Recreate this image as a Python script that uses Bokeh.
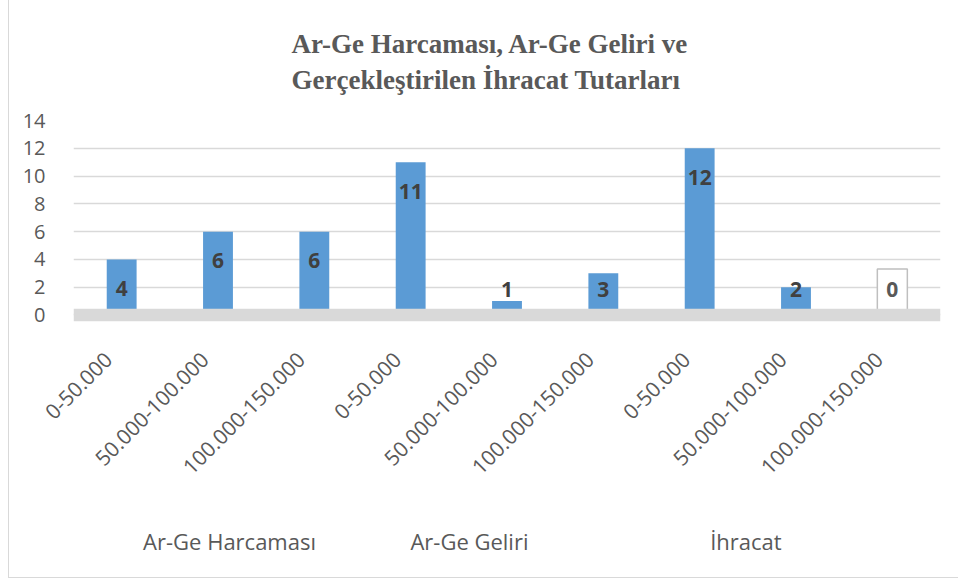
import math
from bokeh.plotting import figure
from bokeh.models import (ColumnDataSource, BoxAnnotation, Range1d,
                          LinearAxis, FixedTicker, Title)
from bokeh.embed import file_html
from bokeh.resources import INLINE
from bokeh.core.properties import value

# ---- data ----
groups = ["Ar-Ge Harcaması", "Ar-Ge Geliri", "İhracat"]
ranges = ["0-50.000", "50.000-100.000", "100.000-150.000"]
harcama = [4, 6, 6]
gelir = [11, 1, 3]
ihracat = [12, 2, 0]
y_ticks = [0, 2, 4, 6, 8, 10, 12, 14]
title_lines = ["Ar-Ge Harcaması, Ar-Ge Geliri ve", "Gerçekleştirilen İhracat Tutarları"]

# ---- layout settings (not data) ----
group_label_x = [1.62, 4.11, 6.98]   # group label centres along the category axis
label_shift = 0.14                   # rotated labels sit slightly left of slot centre

cat_labels = [r for g in groups for r in ranges]
values = harcama + gelir + ihracat
n = len(values)
xpos = [i + 0.5 for i in range(n)]          # slot centres on the category axis
label_y = [max(v - 2.08, 1.83) for v in values]

nz = [i for i, v in enumerate(values) if v != 0]
zz = [i for i, v in enumerate(values) if v == 0]
src = ColumnDataSource(dict(x=xpos, top=values))
src_nz = ColumnDataSource(dict(x=[xpos[i] for i in nz], ly=[label_y[i] for i in nz],
                               txt=[str(values[i]) for i in nz]))
src_z = ColumnDataSource(dict(x=[xpos[i] for i in zz], ly=[label_y[i] for i in zz],
                              txt=[str(values[i]) for i in zz]))

FONT = "Open Sans"
GRAY = "#595959"

p = figure(width=950, height=578, output_backend="svg", toolbar_location=None,
           x_range=Range1d(0, n), y_range=Range1d(-0.47, 14),
           x_axis_location=None,
           min_border_left=64, min_border_right=19,
           min_border_top=113, min_border_bottom=257)
p.outline_line_color = None
p.background_fill_color = "white"
p.border_fill_color = "white"
p.styles = {"margin-left": "8px",
            "border-left": "1px solid #D9D9D9", "border-bottom": "1px solid #D9D9D9"}

p.vbar(x="x", top="top", bottom=0, width=0.31, source=src,
       fill_color="#5B9BD5", line_color=None)

# floor band
p.add_layout(BoxAnnotation(top=0.45, fill_color="#D9D9D9", fill_alpha=1.0,
                           line_color=None, level="overlay"))

p.text(x="x", y="ly", text="txt", source=src_nz, text_align="center",
       text_baseline="middle", text_font=value(FONT), text_font_style="bold",
       text_font_size="21px", text_color="#404040")
p.text(x="x", y="ly", text="txt", source=src_z, text_align="center",
       text_baseline="middle", text_font=value(FONT), text_font_style="bold",
       text_font_size="21px", text_color="#595959",
       background_fill_color="white", border_line_color="#BFBFBF",
       border_line_width=1.5,
       padding=dict(left=9, right=9, top=13, bottom=13))

# y axis
p.yaxis.ticker = y_ticks
p.yaxis.axis_line_color = None
p.yaxis.major_tick_line_color = None
p.yaxis.minor_tick_line_color = None
p.yaxis.major_label_text_font = FONT
p.yaxis.major_label_text_font_size = "20px"
p.yaxis.major_label_text_color = GRAY
p.yaxis.major_label_standoff = 22


def styled_axis(ticks, labels, standoff, size, orientation="horizontal"):
    ax = LinearAxis(ticker=FixedTicker(ticks=ticks),
                    major_label_overrides={t: s for t, s in zip(ticks, labels)})
    ax.axis_line_color = None
    ax.major_tick_line_color = None
    ax.minor_tick_line_color = None
    ax.major_label_orientation = orientation
    ax.major_label_text_font = FONT
    ax.major_label_text_font_size = size
    ax.major_label_text_color = GRAY
    ax.major_label_standoff = standoff
    return ax


# category axis (rotated labels) then group names below it
rot_ticks = [x - label_shift for x in xpos]
p.add_layout(styled_axis(rot_ticks, cat_labels, 28, "21px", math.pi / 4), "below")
p.add_layout(styled_axis(group_label_x, groups, 35, "22px"), "below")

p.xgrid.grid_line_color = None
p.ygrid.ticker = y_ticks
p.ygrid.grid_line_color = "#D9D9D9"
p.ygrid.grid_line_width = 1.3

# two-line title
p.title.visible = False
p.add_layout(Title(text="\n".join(title_lines), align="left", offset=218, standoff=52,
                   text_font="Liberation Serif", text_font_style="bold",
                   text_font_size="27px", text_line_height=1.2,
                   text_color=GRAY), "above")

open("out.html", "w").write(file_html(p, INLINE))
